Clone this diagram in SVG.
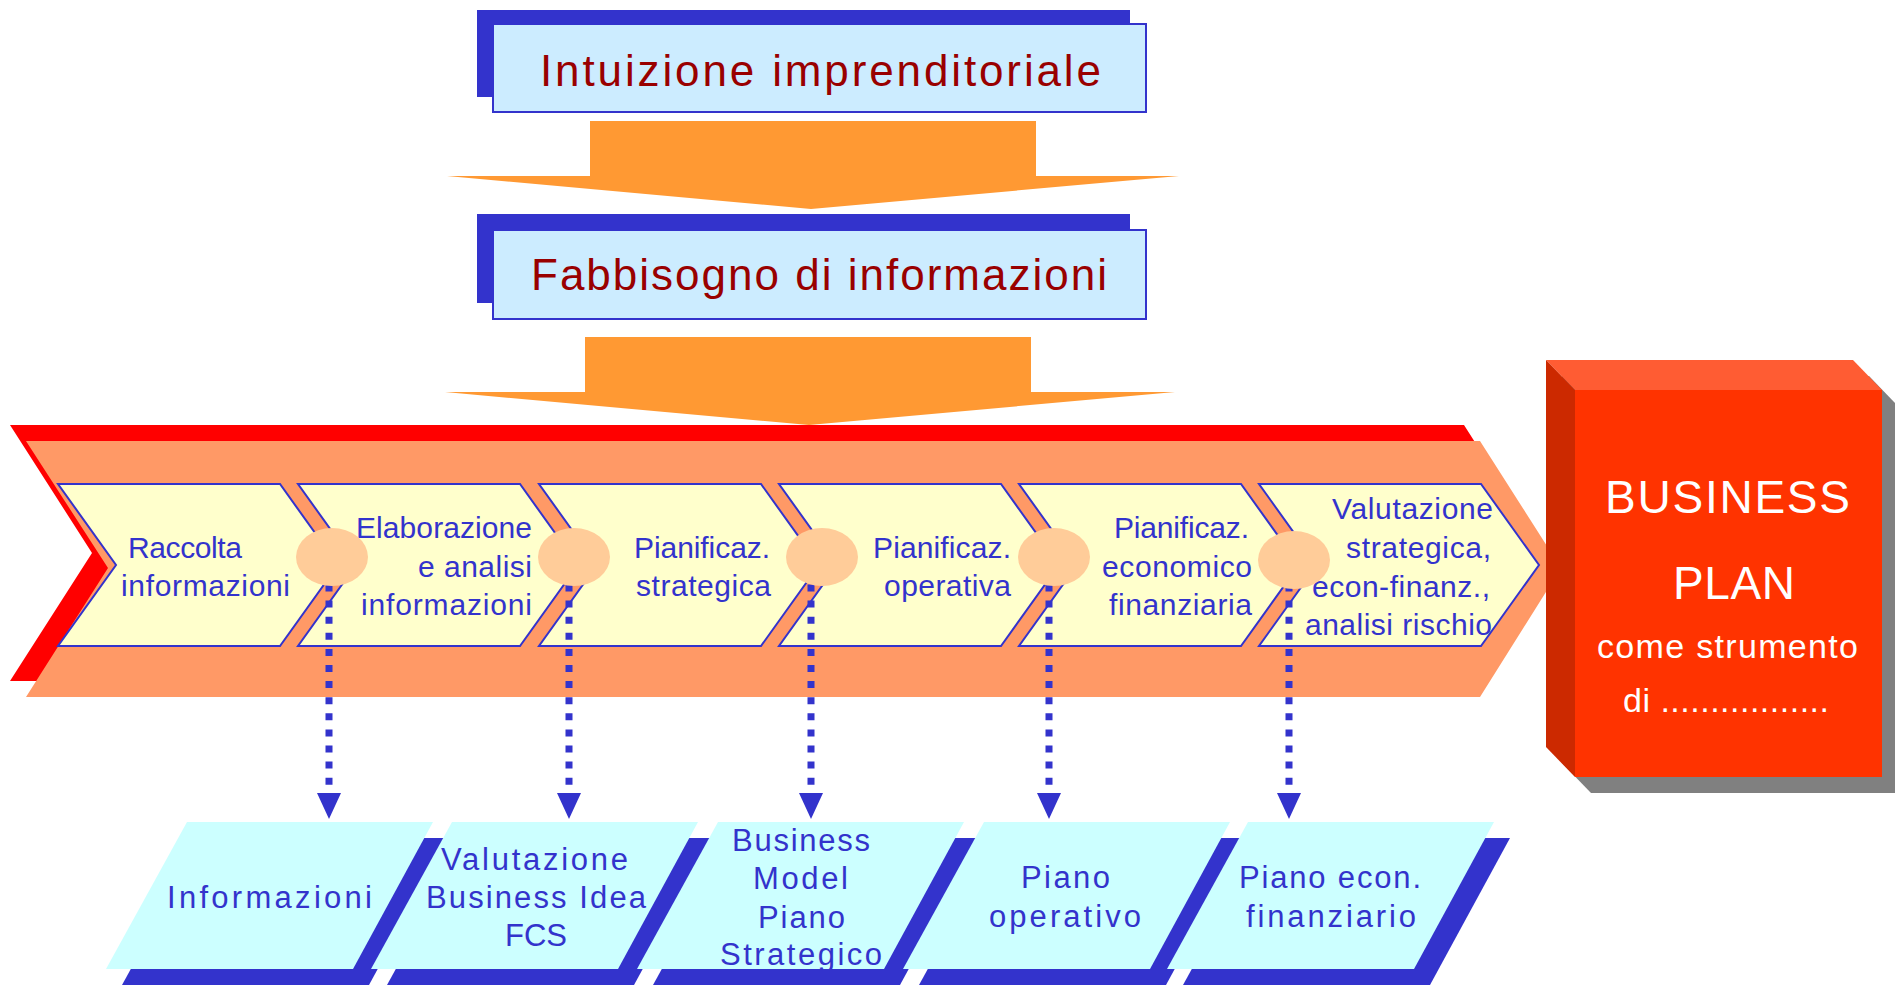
<svg xmlns="http://www.w3.org/2000/svg" width="1895" height="986" viewBox="0 0 1895 986">
<style>
.sh{fill:#3333CC}
.tbox{fill:#CCECFF;stroke:#3333CC;stroke-width:2}
.ttl{font-family:"Liberation Sans",Arial,sans-serif;font-size:44px;fill:#990000}
.blk{fill:#FF9933}
.chev{fill:#FFFFCC;stroke:#3333CC;stroke-width:2;stroke-linejoin:miter}
.ct{font-family:"Liberation Sans",Arial,sans-serif;font-size:30px;fill:#3333CC}
.pt{font-family:"Liberation Sans",Arial,sans-serif;font-size:31px;fill:#3333CC}
.dot{fill:#FFCC99}
.dl{stroke:#3333CC;stroke-width:7;stroke-dasharray:7 9.1;fill:none}
.para{fill:#CCFFFF}
.bt{font-family:"Liberation Sans",Arial,sans-serif;fill:#FFFFFF}
</style>
<defs>
<marker id="ah" markerUnits="userSpaceOnUse" viewBox="0 -12 26 24" markerWidth="26" markerHeight="24" refX="0" refY="0" orient="auto">
<path d="M0,-12 L26,0 L0,12 z" fill="#3333CC"/>
</marker>
<polygon id="chv" points="0,0 222,0 280,81 222,162 0,162 58,81"/>
<polygon id="par" points="81,0 327,0 247,147 0,147"/>
</defs>

<g id="node-intuizione">
<rect class="sh" x="477" y="10" width="653" height="87"/>
<rect class="tbox" x="493" y="24" width="653" height="88"/>
<text class="ttl" x="540" y="86" textLength="561">Intuizione imprenditoriale</text>
</g>

<g id="node-fabbisogno">
<rect class="sh" x="477" y="214" width="653" height="89"/>
<rect class="tbox" x="493" y="230" width="653" height="89"/>
<text class="ttl" x="531" y="290" textLength="576">Fabbisogno di informazioni</text>
</g>

<g id="node-processo">
<polygon fill="#FF0000" points="10,425 1464,425 1545,552 1464,681 10,681 92,553"/>
<polygon fill="#FF9966" points="26,441 1480,441 1561,568 1480,697 26,697 108,568"/>
</g>

<g id="connectors">
<polygon class="blk" points="590,121 1036,121 1036,176 1179,176 811,209 447,176 590,176"/>
<polygon class="blk" points="585,337 1031,337 1031,392 1175,392 809,425 445,392 585,392"/>
</g>

<g id="node-raccolta">
<use href="#chv" class="chev" x="58" y="484"/>
<text class="ct" x="128" y="558" textLength="114">Raccolta</text>
<text class="ct" x="121" y="596" textLength="169">informazioni</text>
</g>
<g id="node-elaborazione">
<use href="#chv" class="chev" x="298" y="484"/>
<text class="ct" x="356" y="538" textLength="176">Elaborazione</text>
<text class="ct" x="418" y="577" textLength="114">e analisi</text>
<text class="ct" x="361" y="615" textLength="171">informazioni</text>
</g>
<g id="node-pian-strategica">
<use href="#chv" class="chev" x="539" y="484"/>
<text class="ct" x="634" y="558" textLength="136">Pianificaz.</text>
<text class="ct" x="636" y="596" textLength="135">strategica</text>
</g>
<g id="node-pian-operativa">
<use href="#chv" class="chev" x="779" y="484"/>
<text class="ct" x="873" y="558" textLength="138">Pianificaz.</text>
<text class="ct" x="884" y="596" textLength="127">operativa</text>
</g>
<g id="node-pian-economico">
<use href="#chv" class="chev" x="1019" y="484"/>
<text class="ct" x="1114" y="538" textLength="135">Pianificaz.</text>
<text class="ct" x="1102" y="577" textLength="150">economico</text>
<text class="ct" x="1109" y="615" textLength="143">finanziaria</text>
</g>
<g id="node-valutazione">
<use href="#chv" class="chev" x="1259" y="484"/>
<text class="ct" x="1332" y="519" textLength="161">Valutazione</text>
<text class="ct" x="1346" y="558" textLength="145">strategica,</text>
<text class="ct" x="1312" y="597" textLength="178">econ-finanz.,</text>
<text class="ct" x="1305" y="635" textLength="187">analisi rischio</text>
</g>

<g id="dotted-connectors">
<line class="dl" x1="329" y1="584.5" x2="329" y2="793" marker-end="url(#ah)"/>
<line class="dl" x1="569" y1="584.5" x2="569" y2="793" marker-end="url(#ah)"/>
<line class="dl" x1="811" y1="584.5" x2="811" y2="793" marker-end="url(#ah)"/>
<line class="dl" x1="1049" y1="584.5" x2="1049" y2="793" marker-end="url(#ah)"/>
<line class="dl" x1="1289" y1="584.5" x2="1289" y2="793" marker-end="url(#ah)"/>
</g>

<g id="junctions">
<ellipse class="dot" cx="332" cy="557" rx="36" ry="29"/>
<ellipse class="dot" cx="574" cy="557" rx="36" ry="29"/>
<ellipse class="dot" cx="822" cy="557" rx="36" ry="29"/>
<ellipse class="dot" cx="1054" cy="557" rx="36" ry="29"/>
<ellipse class="dot" cx="1294" cy="560" rx="36" ry="29"/>
</g>

<g id="node-informazioni">
<use href="#par" class="sh" x="122" y="838"/>
<use href="#par" class="para" x="106" y="822"/>
<text class="pt" x="167" y="908" textLength="205">Informazioni</text>
</g>
<g id="node-val-business-idea">
<use href="#par" class="sh" x="387" y="838"/>
<use href="#par" class="para" x="371" y="822"/>
<text class="pt" x="441" y="870" textLength="187">Valutazione</text>
<text class="pt" x="426" y="908" textLength="220">Business Idea</text>
<text class="pt" x="536" y="946" text-anchor="middle">FCS</text>
</g>
<g id="node-business-model">
<use href="#par" class="sh" x="653" y="838"/>
<use href="#par" class="para" x="637" y="822"/>
<text class="pt" x="732" y="851" textLength="138">Business</text>
<text class="pt" x="753" y="889" textLength="95">Model</text>
<text class="pt" x="758" y="928" textLength="87">Piano</text>
<text class="pt" x="720" y="965" textLength="162">Strategico</text>
</g>
<g id="node-piano-operativo">
<use href="#par" class="sh" x="919" y="838"/>
<use href="#par" class="para" x="903" y="822"/>
<text class="pt" x="1021" y="888" textLength="89">Piano</text>
<text class="pt" x="989" y="927" textLength="152">operativo</text>
</g>
<g id="node-piano-econ">
<use href="#par" class="sh" x="1183" y="838"/>
<use href="#par" class="para" x="1167" y="822"/>
<text class="pt" x="1239" y="888" textLength="182">Piano econ.</text>
<text class="pt" x="1246" y="927" textLength="170">finanziario</text>
</g>

<g id="node-business-plan">
<polygon fill="#808080" points="1562,376 1869,376 1898,406 1898,793 1591,793 1562,763"/>
<polygon fill="#FF5C33" points="1546,360 1853,360 1882,390 1575,390"/>
<polygon fill="#CC2900" points="1546,360 1575,390 1575,777 1546,747"/>
<rect fill="#FF3300" x="1575" y="390" width="307" height="387"/>
<text class="bt" x="1605" y="513" font-size="46" textLength="245">BUSINESS</text>
<text class="bt" x="1673" y="599" font-size="46" textLength="122">PLAN</text>
<text class="bt" x="1597" y="658" font-size="34" textLength="261">come strumento</text>
<text class="bt" x="1623" y="712" font-size="34" textLength="206">di .................</text>
</g>
</svg>
